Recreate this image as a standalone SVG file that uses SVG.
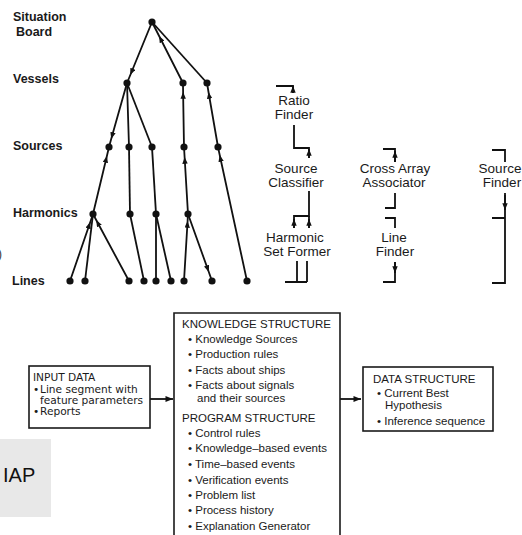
<svg xmlns="http://www.w3.org/2000/svg" width="522" height="535" viewBox="0 0 522 535">
<defs>
<marker id="ah" viewBox="0 0 10 8" refX="10" refY="4" markerWidth="7" markerHeight="5.4" orient="auto" markerUnits="userSpaceOnUse"><path d="M0,0 L10,4 L0,8 z" fill="#111"/></marker>
<marker id="ab" viewBox="0 0 10 8" refX="10" refY="4" markerWidth="9" markerHeight="6" orient="auto" markerUnits="userSpaceOnUse"><path d="M0,0 L10,4 L0,8 z" fill="#111"/></marker>
</defs>
<style>
.e{fill:none;stroke:#111;stroke-width:1.8}
.a{marker-mid:url(#ah)}
.t{fill:none;stroke:#111;stroke-width:1.8}
.n{fill:#111}
.lv{font-family:"Liberation Sans",Arial,sans-serif;font-weight:bold;font-size:12.5px;fill:#1a1a1a}
.ks{font-family:"Liberation Sans",Arial,sans-serif;font-size:13.5px;fill:#1a1a1a;text-anchor:middle}
.bx{fill:#fff;stroke:#1a1a1a;stroke-width:1.6}
.bt{font-family:"Liberation Sans",Arial,sans-serif;font-size:11.5px;fill:#1a1a1a}
.it{font-family:"DejaVu Sans",sans-serif;font-size:10.6px;fill:#1a1a1a}
</style>
<rect width="522" height="535" fill="#fff"/>

<g id="level-labels">
<text class="lv" x="13" y="21">Situation</text>
<text class="lv" x="16" y="36">Board</text>
<text class="lv" x="13" y="83">Vessels</text>
<text class="lv" x="13" y="150">Sources</text>
<text class="lv" x="13" y="217">Harmonics</text>
<text class="lv" x="12" y="285">Lines</text>
</g>
<text x="-2" y="258" font-family="Liberation Sans,sans-serif" font-size="12" fill="#333">)</text>

<g id="connectors">
<path class="e a" d="M152,22 L130.3,75 L127,83"/>
<path class="e a" d="M183,83 L159.1,36 L152,22"/>
<path class="e" d="M152,22 L207,83"/>
<path class="e a" d="M184,147 L183.1,92 L183,83"/>
<path class="e a" d="M218,147 L208.5,92 L207,83"/>
<path class="e a" d="M127,83 L111.2,139 L109,147"/>
<path class="e" d="M127,83 L129,147"/>
<path class="e" d="M127,83 L152,147"/>
<path class="e a" d="M93,214 L106.9,156 L109,147"/>
<path class="e" d="M129,147 L130,214"/>
<path class="e" d="M152,147 L156,214"/>
<path class="e a" d="M188,214 L184.6,157 L184,147"/>
<path class="e a" d="M247,281 L219.7,155 L218,147"/>
<path class="e a" d="M70,281 L90.3,222 L93,214"/>
<path class="e" d="M85,281 L93,214"/>
<path class="e a" d="M129,281 L96.2,220 L93,214"/>
<path class="e" d="M130,214 L144,281"/>
<path class="e" d="M156,214 L156,281"/>
<path class="e" d="M156,214 L171,281"/>
<path class="e a" d="M184,281 L187.6,221 L188,214"/>
<path class="e a" d="M188,214 L208.8,272 L212,281"/>

<!-- knowledge source brackets -->
<path class="t" d="M276,86 H293 V93"/>
<path class="t" d="M293,93 L293,86" marker-end="url(#ah)"/>
<path class="t" d="M294,125 V148 H309 V158"/>
<path class="t" d="M309,158 L309,149" marker-end="url(#ah)"/>
<path class="t" d="M309,191 V216 H294 V228"/>
<path class="t" d="M309,216 V228"/>
<path class="t" d="M294,228 L294,219" marker-end="url(#ah)"/>
<path class="t" d="M309,228 L309,219" marker-end="url(#ah)"/>
<path class="t" d="M297,261 V282 M307,261 V282 M285,282 H307"/>

<path class="t" d="M383,149 H395 V162"/>
<path class="t" d="M395,162 L395,151" marker-end="url(#ah)"/>
<path class="t" d="M395,193 V208 H385"/>
<path class="t" d="M385,218 H395 V228"/>
<path class="t" d="M395,262 V282 H383"/>
<path class="t" d="M395,262 L395,273" marker-end="url(#ah)"/>

<path class="t" d="M492,150 H505 V162"/>
<path class="t" d="M505,193 V283 H492 M492,218 H505"/>
<path class="t" d="M505,195 L505,210" marker-end="url(#ah)"/>

<!-- bottom arrows -->
<path class="t" d="M150,399 L173,399" marker-end="url(#ab)"/>
<path class="t" d="M340,399 L361,399" marker-end="url(#ab)"/>
</g>

<g id="tree-nodes">
<circle class="n" cx="152" cy="22" r="3.6"/>
<circle class="n" cx="127" cy="83" r="3.6"/>
<circle class="n" cx="183" cy="83" r="3.6"/>
<circle class="n" cx="207" cy="83" r="3.6"/>
<circle class="n" cx="109" cy="147" r="3.6"/>
<circle class="n" cx="129" cy="147" r="3.6"/>
<circle class="n" cx="152" cy="147" r="3.6"/>
<circle class="n" cx="184" cy="147" r="3.6"/>
<circle class="n" cx="218" cy="147" r="3.6"/>
<circle class="n" cx="93" cy="214" r="3.6"/>
<circle class="n" cx="130" cy="214" r="3.6"/>
<circle class="n" cx="156" cy="214" r="3.6"/>
<circle class="n" cx="188" cy="214" r="3.6"/>
<circle class="n" cx="70" cy="281" r="3.6"/>
<circle class="n" cx="85" cy="281" r="3.6"/>
<circle class="n" cx="129" cy="281" r="3.6"/>
<circle class="n" cx="144" cy="281" r="3.6"/>
<circle class="n" cx="156" cy="281" r="3.6"/>
<circle class="n" cx="171" cy="281" r="3.6"/>
<circle class="n" cx="184" cy="281" r="3.6"/>
<circle class="n" cx="212" cy="281" r="3.6"/>
<circle class="n" cx="247" cy="281" r="3.6"/>
</g>

<g id="ratio-finder"><text class="ks" x="294" y="105" font-size="12">Ratio</text><text class="ks" x="294" y="118.5" font-size="12">Finder</text></g>
<g id="source-classifier"><text class="ks" x="296" y="173">Source</text><text class="ks" x="296" y="187">Classifier</text></g>
<g id="harmonic-set-former"><text class="ks" x="295" y="242">Harmonic</text><text class="ks" x="297" y="256">Set Former</text></g>
<g id="cross-array-associator"><text class="ks" x="395" y="173">Cross Array</text><text class="ks" x="394" y="187">Associator</text></g>
<g id="line-finder"><text class="ks" x="394" y="242">Line</text><text class="ks" x="395" y="256">Finder</text></g>
<g id="source-finder"><text class="ks" x="500" y="173">Source</text><text class="ks" x="502" y="187">Finder</text></g>

<g id="input-data">
<rect class="bx" x="29" y="366" width="121" height="62"/>
<text class="it" x="33" y="381">INPUT DATA</text>
<text class="it" x="33" y="393">•</text>
<text class="it" x="40" y="393">Line segment with</text>
<text class="it" x="40" y="404">feature parameters</text>
<text class="it" x="33" y="415">•</text>
<text class="it" x="40" y="415">Reports</text>
</g>

<g id="knowledge-program-structure">
<path class="bx" d="M174,540 V313 H340 V540"/>
<text class="bt" x="182" y="328">KNOWLEDGE STRUCTURE</text>
<text class="bt" x="188" y="343">• Knowledge Sources</text>
<text class="bt" x="188" y="358">• Production rules</text>
<text class="bt" x="188" y="374">• Facts about ships</text>
<text class="bt" x="188" y="389">• Facts about signals</text>
<text class="bt" x="197" y="402">and their sources</text>
<text class="bt" x="182" y="422">PROGRAM STRUCTURE</text>
<text class="bt" x="188" y="437">• Control rules</text>
<text class="bt" x="188" y="452">• Knowledge–based events</text>
<text class="bt" x="188" y="468">• Time–based events</text>
<text class="bt" x="188" y="484">• Verification events</text>
<text class="bt" x="188" y="499">• Problem list</text>
<text class="bt" x="188" y="514">• Process history</text>
<text class="bt" x="188" y="530">• Explanation Generator</text>
</g>

<g id="data-structure">
<rect class="bx" x="363" y="367" width="130" height="64"/>
<text class="bt" x="373" y="383" font-size="12">DATA STRUCTURE</text>
<text class="bt" x="377" y="397">• Current Best</text>
<text class="bt" x="385" y="409">Hypothesis</text>
<text class="bt" x="377" y="425">• Inference sequence</text>
</g>

<g id="iap">
<rect x="0" y="439" width="51" height="78" fill="#e8e8e8"/>
<text x="3" y="482" font-family="Liberation Sans,Arial,sans-serif" font-size="20" fill="#111">IAP</text>
</g>
</svg>
